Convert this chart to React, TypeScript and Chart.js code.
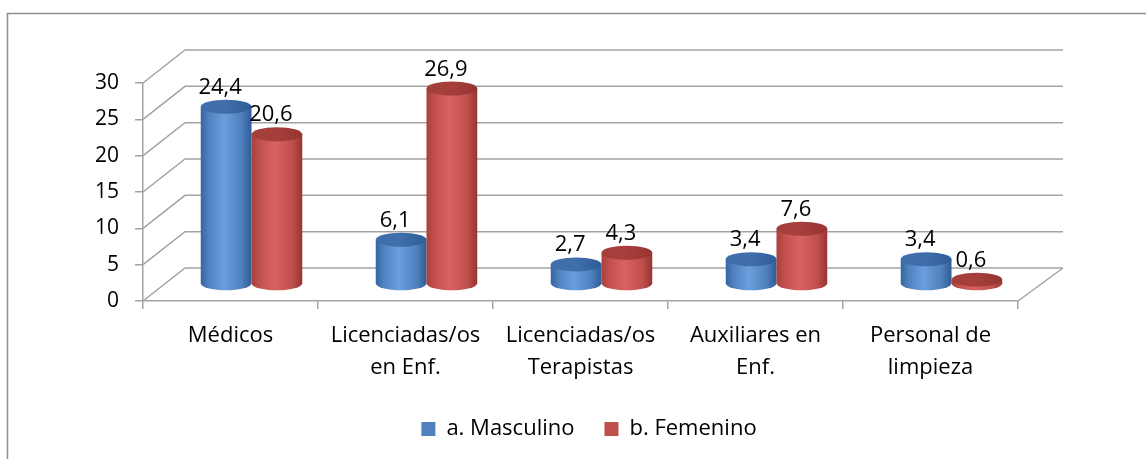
import { useEffect, useRef } from "react";
import { Chart, registerables } from "chart.js";

Chart.register(...registerables);

const categories: string[][] = [
  ["Médicos"],
  ["Licenciadas/os", "en Enf."],
  ["Licenciadas/os", "Terapistas"],
  ["Auxiliares en", "Enf."],
  ["Personal de", "limpieza"],
];
const seriesNames = ["a. Masculino", "b. Femenino"];
const masculino = [24.4, 6.1, 2.7, 3.4, 3.4];
const femenino = [20.6, 26.9, 4.3, 7.6, 0.6];
const yMin = 0;
const yMax = 30;
const yStep = 5;

const FONT = "'Open Sans', Lato, sans-serif";
const GRID = "#A3A3A3";

const palettes = [
  { base: "#4F81BD", edge: "#3465A4", light: "#6A9EDD", dark: "#2F5C98", top: "#3F6EAB" },
  { base: "#C0504D", edge: "#A93F3C", light: "#D9625F", dark: "#963432", top: "#A53F3C" },
];

// 3D geometry (style constants)
const WALL_DX_L = 42;
const WALL_DX_R = 45;
const WALL_DY = -33;
const BAR_DX = 21;
const BAR_DY = -17;
const RY = 7;

const fmt = (v: number) => v.toFixed(1).replace(".", ",");

const frame3d = {
  id: "frame3d",
  beforeDraw(chart: any) {
    const ctx = chart.ctx;
    ctx.save();
    ctx.strokeStyle = "#8E8E8E";
    ctx.lineWidth = 1.5;
    ctx.beginPath();
    ctx.moveTo(7.5, chart.height);
    ctx.lineTo(7.5, 13.5);
    ctx.lineTo(chart.width, 13.5);
    ctx.stroke();
    ctx.restore();
  },
  beforeDatasetsDraw(chart: any) {
    const ctx = chart.ctx;
    const ys = chart.scales.y;
    const { left, right } = chart.chartArea;
    ctx.save();
    ctx.strokeStyle = GRID;
    ctx.lineWidth = 1.5;
    ys.ticks.forEach((t: any) => {
      const py = ys.getPixelForValue(t.value);
      ctx.beginPath();
      ctx.moveTo(left, py);
      ctx.lineTo(left + WALL_DX_L, py + WALL_DY);
      ctx.lineTo(right + WALL_DX_R, py + WALL_DY);
      ctx.stroke();
    });
    const p0 = ys.getPixelForValue(0);
    ctx.beginPath();
    ctx.moveTo(right, p0);
    ctx.lineTo(right + WALL_DX_R, p0 + WALL_DY);
    ctx.stroke();
    ctx.restore();
  },
  beforeDatasetDraw() {
    return false;
  },
  afterDatasetsDraw(chart: any) {
    const ctx = chart.ctx;
    const labels: { x: number; y: number; t: string }[] = [];
    chart.data.datasets.forEach((ds: any, di: number) => {
      const meta = chart.getDatasetMeta(di);
      const pal = palettes[di];
      meta.data.forEach((el: any, i: number) => {
        const { x, y, base, width } = el.getProps(["x", "y", "base", "width"], true);
        const cx = x + BAR_DX;
        const rx = width / 2;
        const l = cx - rx;
        const r = cx + rx;
        const top = y + BAR_DY;
        const bot = base + BAR_DY;
        ctx.save();
        const g = ctx.createLinearGradient(l, 0, r, 0);
        g.addColorStop(0, pal.edge);
        g.addColorStop(0.15, pal.base);
        g.addColorStop(0.45, pal.light);
        g.addColorStop(0.8, pal.base);
        g.addColorStop(1, pal.dark);
        ctx.fillStyle = g;
        ctx.beginPath();
        ctx.moveTo(l, top);
        ctx.lineTo(l, bot);
        ctx.ellipse(cx, bot, rx, RY, 0, Math.PI, 0, true);
        ctx.lineTo(r, top);
        ctx.closePath();
        ctx.fill();
        const tg = ctx.createLinearGradient(l, 0, r, 0);
        tg.addColorStop(0, pal.top);
        tg.addColorStop(0.5, pal.top);
        tg.addColorStop(1, pal.dark);
        ctx.fillStyle = tg;
        ctx.beginPath();
        ctx.ellipse(cx, top, rx, RY, 0, 0, Math.PI * 2);
        ctx.fill();
        ctx.restore();
        labels.push({ x: cx - 6, y: y - 30, t: fmt(ds.data[i]) });
      });
    });
    ctx.save();
    ctx.fillStyle = "#000";
    ctx.font = `22px ${FONT}`;
    ctx.textAlign = "center";
    ctx.textBaseline = "alphabetic";
    labels.forEach((lb) => ctx.fillText(lb.t, lb.x, lb.y));
    ctx.restore();
  },
};

export default function App() {
  const ref = useRef<HTMLCanvasElement | null>(null);
  useEffect(() => {
    if (!ref.current) return;
    const chart = new Chart(ref.current, {
      type: "bar",
      data: {
        labels: categories,
        datasets: [
          { label: seriesNames[0], data: masculino, backgroundColor: palettes[0].base, categoryPercentage: 0.58, barPercentage: 1 },
          { label: seriesNames[1], data: femenino, backgroundColor: palettes[1].base, categoryPercentage: 0.58, barPercentage: 1 },
        ],
      },
      options: {
        animation: false,
        responsive: false,
        maintainAspectRatio: false,
        layout: { padding: { left: 32, right: 0, top: 83, bottom: 9 } },
        plugins: {
          tooltip: { enabled: false },
          legend: {
            position: "bottom",
            labels: {
              font: { family: FONT, size: 22 },
              color: "#000",
              boxWidth: 14,
              boxHeight: 14,
              padding: 30,
            },
          },
        },
        scales: {
          x: {
            grid: { offset: true, drawOnChartArea: false, drawTicks: true, tickLength: 8, color: GRID, lineWidth: 1.5 },
            border: { display: true, color: GRID, width: 1.5 },
            ticks: { font: { family: FONT, size: 22, lineHeight: 1.45 }, color: "#000", padding: 11, maxRotation: 0, autoSkip: false },
            afterFit: (s: any) => { s.height = 87; },
          },
          y: {
            min: yMin,
            max: yMax,
            ticks: { stepSize: yStep, font: { family: FONT, size: 21 }, color: "#000", padding: 16 },
            grid: { drawOnChartArea: false, drawTicks: true, tickLength: 8, color: GRID, lineWidth: 1.5 },
            border: { display: true, color: GRID, width: 1.5 },
            afterFit: (s: any) => { s.width = 111; },
          },
          yRight: {
            position: "right",
            display: true,
            grid: { display: false, drawTicks: false },
            border: { display: false },
            ticks: { display: false },
            afterFit: (s: any) => { s.width = 128; },
          },
        },
      },
      plugins: [frame3d],
    });
    return () => chart.destroy();
  }, []);
  return (
    <div style={{ position: "absolute", left: 0, top: 0, width: 1146, height: 459, background: "#fff" }}>
      <canvas ref={ref} width={1146} height={459} style={{ display: "block" }} />
    </div>
  );
}
